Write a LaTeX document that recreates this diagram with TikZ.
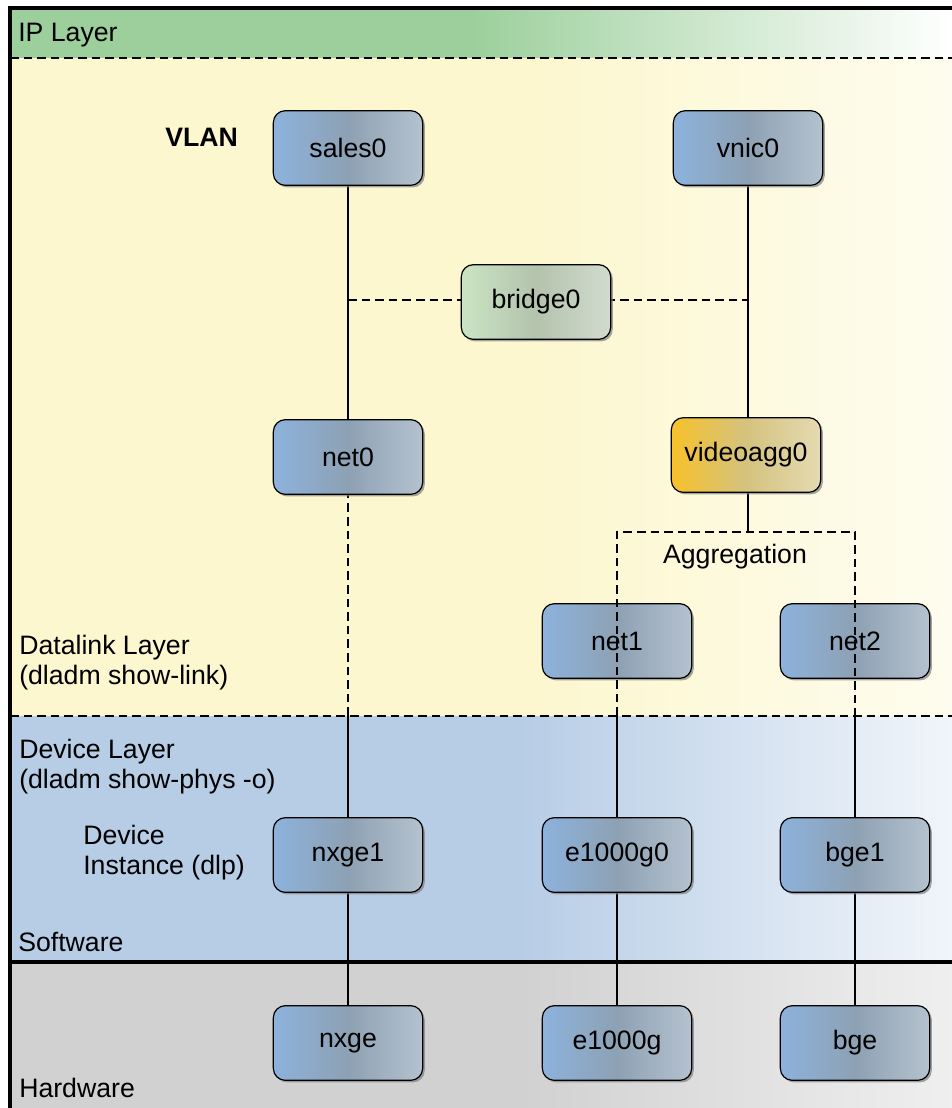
\documentclass[tikz,border=0pt]{standalone}
\usepackage{fontspec}
\setmainfont{Liberation Sans}
\usetikzlibrary{shadows}
\definecolor{iplayer}{HTML}{9CCF9C}
\definecolor{linklayer}{HTML}{FCF7CF}
\definecolor{devlayer}{HTML}{B7CDE6}
\definecolor{hwlayer}{HTML}{D1D1D1}
\definecolor{boxblue}{HTML}{8DB2DC}
\definecolor{boxgrey}{HTML}{8DA1B4}
\definecolor{boxgreen}{HTML}{CBE4C3}
\definecolor{boxsage}{HTML}{B3C3AD}
\definecolor{boxgold}{HTML}{F7C12A}
\definecolor{boxsand}{HTML}{D4C27E}
\def\lblfont{\fontsize{20}{22.5}\selectfont}

\begin{document}
\begin{tikzpicture}[x=0.75pt, y=-0.75pt,
		dev/.style={draw=black, line width=0.9pt, rounded corners=9pt,
			minimum width=112pt, minimum height=56pt, font=\lblfont,
			left color=boxblue, right color=boxgrey!65!white, middle color=boxgrey,
			drop shadow={shadow xshift=1.6pt, shadow yshift=-1.6pt, opacity=0.7}},
		bridgebox/.style={dev, left color=boxgreen, right color=boxsage!60!white, middle color=boxsage},
		aggbox/.style={dev, left color=boxgold, right color=boxsand!60!white, middle color=boxsand},
		lbl/.style={font=\lblfont, anchor=west, align=left, inner sep=0pt},
		link/.style={line width=1.5pt},
		seam/.style={line width=1.5pt, dash pattern=on 6.5pt off 3.7pt}]
		%%%%% START %%%%%
		
		\useasboundingbox (0, 0) rectangle (952, 1108);
		
		% layer bands
		\fill[iplayer] (10, 8) rectangle (470, 58);
		\shade[left color=iplayer, right color=white] (470, 8) rectangle (952, 58);
		\fill[linklayer] (10, 58) rectangle (540, 716);
		\shade[left color=linklayer, right color=linklayer!35!white] (540, 58) rectangle (952, 716);
		\fill[devlayer] (10, 716) rectangle (520, 962);
		\shade[left color=devlayer, right color=devlayer!20!white] (520, 716) rectangle (952, 962);
		\fill[hwlayer] (10, 962) rectangle (520, 1108);
		\shade[left color=hwlayer, right color=hwlayer!35!white] (520, 962) rectangle (952, 1108);
		
		\draw[seam] (10, 58) -- (952, 58);
		\draw[seam] (10, 716) -- (952, 716);
		\draw[line width=2.3pt] (10, 962) -- (952, 962);
		\draw[line width=2.4pt] (952, 8) -- (10, 8) -- (10, 1108);
		
		% labels
		\node[lbl] (ip) at (18, 35) {IP Layer};
		\node[lbl, font=\lblfont\bfseries] (vlan) at (165, 137) {VLAN};
		\node[lbl] (dl) at (19, 663) {Datalink Layer\\(dladm show-link)};
		\node[lbl] (dv) at (19, 767) {Device Layer\\(dladm show-phys -o)};
		\node[lbl] (inst) at (83, 853) {Device\\Instance (dlp)};
		\node[lbl] (sw) at (18, 942) {Software};
		\node[lbl] (hw) at (19, 1088) {Hardware};
		\node[font=\lblfont] (agg) at (735, 557) {Aggregation};
		
		% junctions
		\coordinate (j0) at (348, 300);
		\coordinate (j1) at (748, 300);
		\coordinate (d0) at (348, 716);
		\coordinate (at) at (748, 532);
		\coordinate (al) at (617, 532);
		\coordinate (ar) at (855, 532);
		\coordinate (d1) at (617, 716);
		\coordinate (d2) at (855, 716);
		
		% links
		\draw[link] (348, 147) -- (348, 457);
		\draw[link] (748, 147) -- (748, 457);
		\draw[link] (748, 457) -- (at);
		\draw[seam] (d0) -- (348, 457);
		\draw[link] (d0) -- (348, 1043);
		\draw[link] (d1) -- (617, 1043);
		\draw[link] (d2) -- (855, 1043);
		\draw[seam] (j0) -- (j1);
		
		% devices
		\node[dev] (sales0) at (348, 148) {sales0};
		\node[dev] (vnic0) at (748, 148) {vnic0};
		\node[bridgebox] (bridge0) at (536, 302) {bridge0};
		\node[dev] (net0) at (348, 457) {net0};
		\node[aggbox] (videoagg0) at (746, 455) {videoagg0};
		\node[dev] (net1) at (617, 641) {net1};
		\node[dev] (net2) at (855, 641) {net2};
		\node[dev] (nxge1) at (348, 855) {nxge1};
		\node[dev] (e1000g0) at (617, 855) {e1000g0};
		\node[dev] (bge1) at (855, 855) {bge1};
		\node[dev] (nxge) at (348, 1043) {nxge};
		\node[dev] (e1000g) at (617, 1043) {e1000g};
		\node[dev] (bge) at (855, 1043) {bge};
		
		% aggregation frame
		\draw[seam] (d1) -- (al) -- (ar) -- (d2);
		
		%%%%% END %%%%%
	\end{tikzpicture}
\end{document}
